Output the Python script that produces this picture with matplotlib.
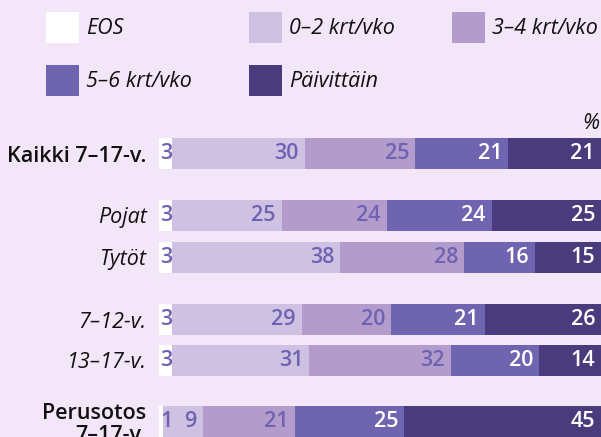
import os
import matplotlib
matplotlib.use("Agg")
import matplotlib.pyplot as plt
import matplotlib.transforms as mtransforms
from matplotlib import font_manager
from matplotlib.font_manager import FontProperties
from matplotlib.patches import Patch
import numpy as np

# ---- data ----
categories = ["Kaikki 7–17-v.", "Pojat", "Tytöt", "7–12-v.", "13–17-v.", "Perusotos\n7–17-v."]
series_names = ["EOS", "0–2 krt/vko", "3–4 krt/vko", "5–6 krt/vko", "Päivittäin"]
eos = [3, 3, 3, 3, 3, 1]
k02 = [30, 25, 38, 29, 31, 9]
k34 = [25, 24, 28, 20, 32, 21]
k56 = [21, 24, 16, 21, 20, 25]
daily = [21, 25, 15, 26, 14, 45]

# ---- layout / style ----
W, H = 601, 437
row_centers = [153.5, 215.5, 257.5, 319.5, 360.5, 421.5]
bar_h = 31
bold_rows = [0, 5]
bg = "#F3E6F8"
colors = ["#FFFFFF", "#CFC1E1", "#B39CCB", "#6F64B0", "#4A3C7C"]
txt_colors = ["#6E62B2", "#6E62B2", "#6E62B2", "#FFFFFF", "#FFFFFF"]
fs = 15.5


def _w(v):
    if isinstance(v, str):
        return font_manager.weight_dict.get(v, 400)
    return int(v)


def pick(weight, style, size):
    for fam in ["Open Sans", "Noto Sans"]:
        cands = [f for f in font_manager.fontManager.ttflist if f.name == fam]
        if not cands:
            continue

        def key(f):
            base = os.path.basename(f.fname).lower()
            bad = any(s in base for s in ["cond", "narrow", "expanded", "display", "ui"])
            st = 0 if (f.style == "normal") == (style == "normal") else 1
            return (bad, st, abs(_w(f.weight) - weight))

        best = sorted(cands, key=key)[0]
        return FontProperties(fname=best.fname, size=size)
    return FontProperties(family="DejaVu Sans", weight=weight, style=style, size=size)


fp_num = pick(600, "normal", fs)
fp_bold = pick(600, "normal", fs)
fp_ital = pick(400, "italic", fs)

fig = plt.figure(figsize=(W / 100, H / 100), dpi=100, facecolor=bg)
ax = fig.add_axes([159 / W, 0, 442 / W, 1])
ax.set_facecolor(bg)
ax.set_xlim(0, 100)
ax.set_ylim(H, 0)

vals = np.array([eos, k02, k34, k56, daily], dtype=float)
shares = vals / vals.sum(axis=0) * 100
lefts = np.zeros(len(categories))
pad_px = -6
for i, name in enumerate(series_names):
    ax.barh(row_centers, shares[i], left=lefts, height=bar_h, color=colors[i],
            edgecolor="none", label=name)
    for j in range(len(categories)):
        if i == 0:
            off = mtransforms.offset_copy(ax.transData, fig=fig, x=1, y=0, units="dots")
            ax.text(lefts[j], row_centers[j], str(int(vals[i, j])), transform=off,
                    ha="left", va="center", fontproperties=fp_num,
                    color=txt_colors[i])
        else:
            off = mtransforms.offset_copy(ax.transData, fig=fig, x=pad_px, y=0, units="dots")
            ax.text(lefts[j] + shares[i, j], row_centers[j], str(int(vals[i, j])),
                    transform=off, ha="right", va="center", fontproperties=fp_num,
                    color=txt_colors[i])
    lefts += shares[i]

ax.set_yticks(row_centers)
ax.set_yticklabels(categories)
ax.tick_params(axis="y", length=0, pad=9)
ax.tick_params(axis="x", bottom=False, labelbottom=False)
for k, lab in enumerate(ax.get_yticklabels()):
    lab.set_fontproperties(fp_bold if k in bold_rows else fp_ital)
    lab.set_color("#111111")
    lab.set_linespacing(1.05)
for s in ax.spines.values():
    s.set_visible(False)

# percent sign
fig.text(599 / W, 1 - 129 / H, "%", ha="right", va="baseline",
         fontproperties=fp_ital, color="#111111")

# legend
handles = [Patch(facecolor=c, edgecolor="none") for c in colors]
order = [0, 3, 1, 4, 2]
leg = fig.legend([handles[o] for o in order], [series_names[o] for o in order],
                 ncol=3, loc="upper left", bbox_to_anchor=(46 / W, 1 - 12 / H),
                 frameon=False, borderpad=0, borderaxespad=0,
                 handlelength=1.53, handleheight=1.84, handletextpad=0.33,
                 columnspacing=2.65, labelspacing=1.0, prop=fp_ital)
for t in leg.get_texts():
    t.set_color("#111111")

fig.savefig("out.png", dpi=100, facecolor=bg)
